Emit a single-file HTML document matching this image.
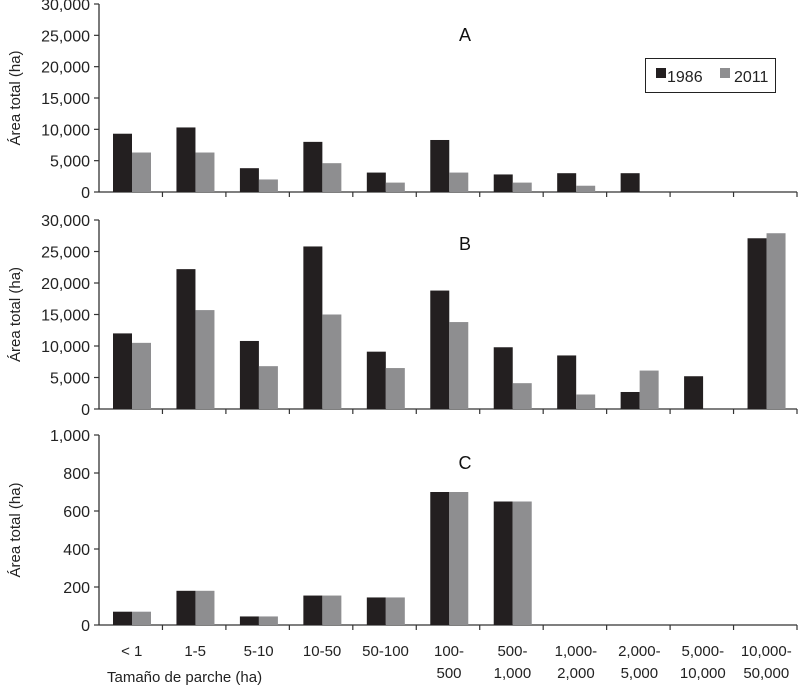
<!DOCTYPE html>
<html><head><meta charset="utf-8">
<style>
html,body{margin:0;padding:0;background:#fff;}
svg{display:block;font-family:"Liberation Sans",Arial,sans-serif;}
</style></head>
<body>
<svg id="chart" width="800" height="689" viewBox="0 0 800 689" xmlns="http://www.w3.org/2000/svg"></svg>
<script>
const categories = ["< 1","1-5","5-10","10-50","50-100","100-|500","500-|1,000","1,000-|2,000","2,000-|5,000","5,000-|10,000","10,000-|50,000"];
const panelLetters = ["A","B","C"];
const a1986 = [9300,10300,3800,8000,3100,8300,2800,3000,3000,0,0];
const a2011 = [6300,6300,2000,4600,1500,3100,1500,1000,0,0,0];
const b1986 = [12000,22200,10800,25800,9100,18800,9800,8500,2700,5200,27100];
const b2011 = [10500,15700,6800,15000,6500,13800,4100,2300,6100,0,27900];
const c1986 = [70,180,45,155,145,700,650,0,0,0,0];
const c2011 = [70,180,45,155,145,700,650,0,0,0,0];
const ticksAB = [0,5000,10000,15000,20000,25000,30000];
const ticksC = [0,200,400,600,800,1000];
const tickLabelsAB = ["0","5,000","10,000","15,000","20,000","25,000","30,000"];
const tickLabelsC = ["0","200","400","600","800","1,000"];

const NS="http://www.w3.org/2000/svg";
const svg=document.getElementById('chart');
function mk(tag,attrs,parent){const e=document.createElementNS(NS,tag);for(const k in attrs)e.setAttribute(k,attrs[k]);(parent||svg).appendChild(e);return e;}

const x0=99, x1=797, step=(x1-x0)/categories.length;
const panels=[
 {top:4,base:192,max:30000,ticks:ticksAB,labels:tickLabelsAB,s1:a1986,s2:a2011,lx:465,ly:41},
 {top:220,base:409,max:30000,ticks:ticksAB,labels:tickLabelsAB,s1:b1986,s2:b2011,lx:465,ly:250},
 {top:435,base:625,max:1000,ticks:ticksC,labels:tickLabelsC,s1:c1986,s2:c2011,lx:465,ly:469}
];
panels.forEach((p,pi)=>{
  const g=mk('g',{});
  
  
  const y=v=>p.base-(v/p.max)*(p.base-p.top);
  const xc=i=>x0+step*i;
  const ya=mk('line',{x1:x0,y1:p.top,x2:x0,y2:p.base,stroke:'#333','stroke-width':1.3},g);
  
  
  const xa=mk('line',{x1:x0,y1:p.base,x2:x1,y2:p.base,stroke:'#333','stroke-width':1.3},g);
  
  
  p.ticks.forEach((t,ti)=>{
    mk('line',{x1:x0-5,y1:y(t),x2:x0,y2:y(t),stroke:'#333','stroke-width':1.2},g);
    const tl=mk('text',{x:90,y:y(t)+6,'text-anchor':'end','font-size':16,fill:'#222'},g);
    tl.textContent=p.labels[ti];
    
    
  });
  for(let i=1;i<=categories.length;i++){
    mk('line',{x1:xc(i),y1:p.base,x2:xc(i),y2:p.base+5,stroke:'#333','stroke-width':1.2},g);
  }
  categories.forEach((c,i)=>{
    const bx=xc(i)+14;
    if(p.s1[i]>0){
      const r=mk('rect',{x:bx,y:y(p.s1[i]),width:19,height:p.base-y(p.s1[i]),fill:'#231f20'},g);
      
      
    }
    if(p.s2[i]>0){
      const r=mk('rect',{x:bx+19,y:y(p.s2[i]),width:19,height:p.base-y(p.s2[i]),fill:'#8e8e90'},g);
      
      
    }
  });
  const yt=mk('text',{x:0,y:0,'text-anchor':'middle','font-size':15,fill:'#222',transform:`translate(20,${(p.top+p.base)/2}) rotate(-90)`},g);
  yt.textContent='Área total (ha)';
  
  
  const pl=mk('text',{x:p.lx,y:p.ly,'text-anchor':'middle','font-size':18,fill:'#111'},g);
  pl.textContent=panelLetters[pi];
  
  
});
categories.forEach((c,i)=>{
  const cx=x0+step*(i+0.5)+1;
  const parts=c.split('|');
  const t=mk('text',{x:cx,y:656,'text-anchor':'middle','font-size':15,fill:'#222'});
  
  
  parts.forEach((s,k)=>{const ts=mk('tspan',{x:cx,dy:k===0?0:22},t);ts.textContent=s;});
});
const xt=mk('text',{x:107,y:682,'font-size':15,fill:'#222'});
xt.textContent='Tamaño de parche (ha)';


const lg=mk('g',{});


mk('rect',{x:645.5,y:58.5,width:130,height:34,fill:'#fff',stroke:'#222','stroke-width':1},lg);
mk('rect',{x:656,y:68,width:10,height:10,fill:'#231f20'},lg);
const l1=mk('text',{x:667,y:82,'font-size':16,fill:'#222'},lg);l1.textContent='1986';


mk('rect',{x:720,y:68,width:10,height:10,fill:'#8e8e90'},lg);
const l2=mk('text',{x:734,y:82,'font-size':16,fill:'#222'},lg);l2.textContent='2011';


</script>
</body></html>
